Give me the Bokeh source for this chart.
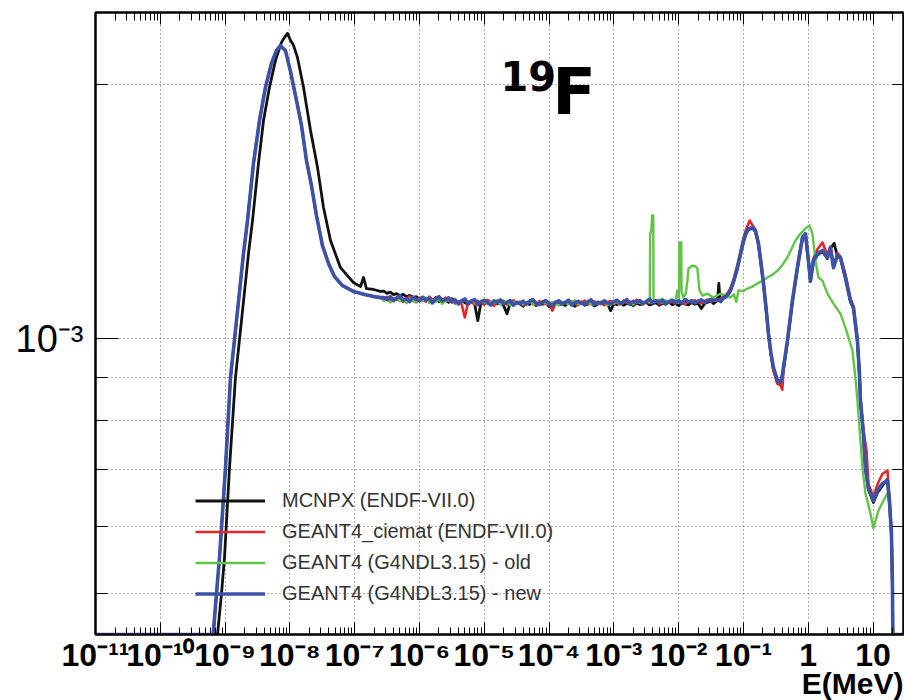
import numpy as np
from bokeh.plotting import figure
from bokeh.models import Range1d, FixedTicker, LogAxis, Label, Legend, LegendItem, Title
from bokeh.embed import file_html
from bokeh.resources import INLINE

# ---------------- data ----------------
# energies stored as log10(E / MeV); flux values stored in units of 1e-3
Y_UNIT = 1e-3

# thermal region (GEANT4 runs share this shape)
G4_THERMAL_LOGE = [-11.0, -9.184, -9.133, -9.086, -8.994, -8.917, -8.824, -8.716, -8.654, -8.562,
                   -8.469, -8.377, -8.284, -8.207, -8.145, -8.068, -7.991, -7.898, -7.821, -7.744,
                   -7.667, -7.590, -7.497, -7.404, -7.312, -7.188, -7.019, -6.833, -6.700, -6.600]
G4_THERMAL_Y = [0, 0, 0.499, 0.551, 0.703, 0.899, 1.050, 1.260, 1.379, 1.611,
                1.811, 1.982, 2.116, 2.192, 2.220, 2.190, 2.070, 1.913, 1.787, 1.624,
                1.517, 1.398, 1.288, 1.227, 1.184, 1.155, 1.137, 1.127, 1.121, 1.118]

MCNPX_THERMAL_LOGE = [-11.0, -9.117, -9.056, -9.009, -8.932, -8.840, -8.747, -8.639, -8.577, -8.485,
                      -8.407, -8.315, -8.222, -8.130, -8.083, -8.037, -7.991, -7.944, -7.883, -7.790,
                      -7.682, -7.574, -7.481, -7.373, -7.219, -7.019, -6.910, -6.864, -6.818, -6.710,
                      -6.602]
MCNPX_THERMAL_Y = [0, 0, 0.499, 0.551, 0.703, 0.899, 1.050, 1.260, 1.379, 1.611,
                   1.811, 1.982, 2.133, 2.240, 2.271, 2.296, 2.253, 2.222, 2.150, 1.982,
                   1.763, 1.594, 1.429, 1.306, 1.213, 1.165, 1.152, 1.181, 1.146, 1.143,
                   1.137]

# epithermal plateau: histogram bins of 0.05 decade from 10^-6.55 to 10^-1.50 MeV
PLATEAU_LOGE = np.round(np.arange(-6.55, -1.49, 0.05), 2)

MCNPX_PLATEAU_Y = [
    1.138, 1.131, 1.135, 1.127, 1.130, 1.124, 1.128, 1.120, 1.125, 1.117,
    1.121, 1.115, 1.119, 1.112, 1.116, 1.109, 1.118, 1.106, 1.113, 1.110,
    1.104, 1.115, 1.108, 1.101, 1.109, 1.103, 1.097, 1.106, 1.100, 1.050,
    1.104, 1.098, 1.107, 1.095, 1.102, 1.099, 1.105, 1.093, 1.070, 1.101,
    1.096, 1.104, 1.099, 1.092, 1.103, 1.097, 1.106, 1.094, 1.100, 1.098,
    1.104, 1.091, 1.099, 1.105, 1.096, 1.101, 1.094, 1.103, 1.098, 1.092,
    1.100, 1.105, 1.095, 1.099, 1.102, 1.093, 1.098, 1.104, 1.096, 1.101,
    1.079, 1.100, 1.097, 1.103, 1.095, 1.101, 1.098, 1.094, 1.102, 1.097,
    1.100, 1.104, 1.096, 1.099, 1.103, 1.095, 1.101, 1.098, 1.105, 1.097,
    1.100, 1.094, 1.102, 1.099, 1.096, 1.103, 1.098, 1.101, 1.085, 1.100,
    1.104, 1.107]

CIEMAT_PLATEAU_Y = [
    1.114, 1.120, 1.108, 1.116, 1.111, 1.119, 1.105, 1.113, 1.122, 1.109,
    1.104, 1.117, 1.110, 1.106, 1.121, 1.112, 1.107, 1.115, 1.103, 1.118,
    1.109, 1.113, 1.100, 1.107, 1.098, 1.059, 1.104, 1.110, 1.096, 1.108,
    1.102, 1.099, 1.111, 1.105, 1.093, 1.106, 1.101, 1.108, 1.097, 1.104,
    1.110, 1.099, 1.105, 1.095, 1.103, 1.109, 1.100, 1.096, 1.107, 1.102,
    1.098, 1.105, 1.079, 1.101, 1.108, 1.097, 1.104, 1.099, 1.106, 1.100,
    1.095, 1.103, 1.109, 1.098, 1.102, 1.107, 1.099, 1.105, 1.096, 1.104,
    1.108, 1.100, 1.103, 1.097, 1.109, 1.102, 1.106, 1.099, 1.111, 1.104,
    1.098, 1.107, 1.101, 1.105, 1.110, 1.099, 1.104, 1.108, 1.102, 1.106,
    1.100, 1.109, 1.104, 1.098, 1.107, 1.103, 1.110, 1.105, 1.101, 1.108,
    1.112, 1.106]

OLD_PLATEAU_Y = [  # bins up to 10^-2.50 MeV
    1.108, 1.114, 1.103, 1.111, 1.117, 1.106, 1.112, 1.101, 1.115, 1.109,
    1.104, 1.113, 1.107, 1.118, 1.102, 1.110, 1.105, 1.114, 1.099, 1.108,
    1.112, 1.103, 1.109, 1.098, 1.106, 1.111, 1.100, 1.107, 1.103, 1.096,
    1.109, 1.104, 1.099, 1.106, 1.101, 1.110, 1.097, 1.103, 1.108, 1.095,
    1.104, 1.100, 1.106, 1.098, 1.102, 1.109, 1.096, 1.103, 1.099, 1.107,
    1.101, 1.097, 1.105, 1.100, 1.094, 1.106, 1.102, 1.098, 1.104, 1.110,
    1.097, 1.103, 1.100, 1.107, 1.096, 1.104, 1.099, 1.102, 1.108, 1.095,
    1.103, 1.100, 1.106, 1.098, 1.104, 1.109, 1.101, 1.097, 1.105, 1.102,
    1.099, 1.106]

NEW_PLATEAU_Y = [
    1.118, 1.112, 1.121, 1.109, 1.117, 1.124, 1.110, 1.115, 1.106, 1.120,
    1.113, 1.108, 1.119, 1.111, 1.116, 1.102, 1.114, 1.121, 1.108, 1.112,
    1.117, 1.105, 1.111, 1.099, 1.108, 1.114, 1.101, 1.106, 1.112, 1.097,
    1.105, 1.110, 1.103, 1.096, 1.108, 1.104, 1.111, 1.099, 1.102, 1.109,
    1.095, 1.104, 1.100, 1.107, 1.098, 1.106, 1.112, 1.101, 1.097, 1.105,
    1.109, 1.100, 1.094, 1.104, 1.108, 1.099, 1.103, 1.110, 1.096, 1.102,
    1.107, 1.101, 1.098, 1.105, 1.111, 1.097, 1.104, 1.100, 1.108, 1.102,
    1.099, 1.106, 1.110, 1.101, 1.104, 1.112, 1.098, 1.107, 1.103, 1.109,
    1.100, 1.106, 1.113, 1.102, 1.108, 1.104, 1.111, 1.099, 1.106, 1.110,
    1.103, 1.108, 1.101, 1.112, 1.105, 1.109, 1.102, 1.107, 1.111, 1.104,
    1.108, 1.113]

# fast region: (log10 E, value) pairs
MCNPX_FAST = [(-1.463, 1.100), (-1.400, 1.110), (-1.380, 1.162), (-1.360, 1.108), (-1.309, 1.115),
              (-1.250, 1.122), (-1.201, 1.138), (-1.150, 1.168), (-1.093, 1.210), (-1.040, 1.262),
              (-1.000, 1.300), (-0.960, 1.330), (-0.923, 1.345), (-0.861, 1.350), (-0.815, 1.338),
              (-0.769, 1.292), (-0.730, 1.225), (-0.691, 1.160), (-0.650, 1.080), (-0.614, 1.010),
              (-0.575, 0.958), (-0.537, 0.920), (-0.475, 0.885), (-0.429, 0.890), (-0.400, 0.900),
              (-0.383, 0.920), (-0.321, 0.992), (-0.244, 1.105), (-0.167, 1.210), (-0.090, 1.312),
              (-0.043, 1.328), (0.003, 1.235), (0.034, 1.168), (0.080, 1.232), (0.142, 1.255),
              (0.219, 1.268), (0.296, 1.243), (0.343, 1.278), (0.400, 1.296), (0.451, 1.250),
              (0.497, 1.245), (0.574, 1.178), (0.651, 1.105), (0.698, 1.085), (0.759, 0.990),
              (0.790, 0.905), (0.806, 0.842), (0.852, 0.768), (0.883, 0.700), (0.929, 0.663),
              (1.006, 0.640), (1.068, 0.657), (1.145, 0.670), (1.222, 0.682), (1.253, 0.640),
              (1.284, 0.585), (1.299, 0.510), (1.305, 0), (1.470, 0)]

CIEMAT_FAST = [(-1.463, 1.112), (-1.400, 1.108), (-1.350, 1.115), (-1.309, 1.121), (-1.250, 1.130),
               (-1.201, 1.146), (-1.150, 1.176), (-1.093, 1.222), (-1.040, 1.272), (-1.000, 1.315),
               (-0.960, 1.345), (-0.905, 1.379), (-0.861, 1.362), (-0.815, 1.345), (-0.769, 1.300),
               (-0.730, 1.236), (-0.691, 1.168), (-0.650, 1.090), (-0.614, 1.018), (-0.575, 0.955),
               (-0.537, 0.915), (-0.475, 0.885), (-0.429, 0.880), (-0.400, 0.870), (-0.383, 0.915),
               (-0.321, 0.990), (-0.244, 1.112), (-0.167, 1.222), (-0.090, 1.320), (-0.043, 1.325),
               (0.003, 1.232), (0.034, 1.176), (0.080, 1.245), (0.142, 1.275), (0.219, 1.299),
               (0.296, 1.255), (0.343, 1.285), (0.389, 1.220), (0.451, 1.262), (0.497, 1.250),
               (0.574, 1.190), (0.651, 1.115), (0.698, 1.092), (0.759, 1.000), (0.790, 0.915),
               (0.806, 0.850), (0.852, 0.778), (0.900, 0.737), (0.929, 0.672), (1.006, 0.650),
               (1.068, 0.672), (1.145, 0.692), (1.222, 0.698), (1.253, 0.650), (1.284, 0.592),
               (1.299, 0.515), (1.305, 0), (1.470, 0)]

OLD_FAST = [(-2.445, 1.104), (-2.440, 1.330), (-2.420, 1.345), (-2.410, 1.398), (-2.392, 1.398),
            (-2.388, 1.110), (-2.350, 1.106), (-2.300, 1.112), (-2.250, 1.103), (-2.200, 1.110),
            (-2.150, 1.105), (-2.100, 1.112), (-2.050, 1.107), (-2.020, 1.140), (-1.995, 1.112),
            (-1.990, 1.299), (-1.960, 1.299), (-1.955, 1.140), (-1.930, 1.118), (-1.890, 1.130),
            (-1.864, 1.171), (-1.849, 1.210), (-1.787, 1.220), (-1.741, 1.217), (-1.710, 1.210),
            (-1.694, 1.171), (-1.679, 1.140), (-1.633, 1.124), (-1.556, 1.130), (-1.463, 1.118),
            (-1.400, 1.125), (-1.355, 1.130), (-1.280, 1.125), (-1.201, 1.118), (-1.150, 1.128),
            (-1.110, 1.105), (-1.077, 1.140), (-1.000, 1.138), (-0.938, 1.146), (-0.860, 1.152),
            (-0.784, 1.162), (-0.710, 1.170), (-0.630, 1.181), (-0.550, 1.190), (-0.475, 1.203),
            (-0.400, 1.222), (-0.321, 1.247), (-0.260, 1.275), (-0.198, 1.306), (-0.120, 1.331),
            (-0.043, 1.349), (0.019, 1.361), (0.065, 1.331), (0.111, 1.237), (0.157, 1.181),
            (0.219, 1.171), (0.296, 1.130), (0.389, 1.100), (0.497, 1.070), (0.574, 1.030),
            (0.620, 1.003), (0.682, 0.968), (0.728, 0.899), (0.759, 0.845), (0.836, 0.704),
            (0.883, 0.656), (0.960, 0.621), (1.006, 0.597), (1.083, 0.626), (1.160, 0.643),
            (1.222, 0.656), (1.253, 0.635), (1.284, 0.588), (1.299, 0.513), (1.305, 0), (1.470, 0)]

NEW_FAST = [(-1.463, 1.109), (-1.400, 1.112), (-1.350, 1.106), (-1.309, 1.118), (-1.250, 1.125),
            (-1.201, 1.140), (-1.150, 1.170), (-1.093, 1.213), (-1.040, 1.265), (-1.000, 1.306),
            (-0.960, 1.335), (-0.923, 1.349), (-0.861, 1.353), (-0.815, 1.342), (-0.769, 1.296),
            (-0.730, 1.230), (-0.691, 1.162), (-0.650, 1.085), (-0.614, 1.014), (-0.575, 0.960),
            (-0.537, 0.924), (-0.475, 0.892), (-0.429, 0.887), (-0.400, 0.905), (-0.383, 0.924),
            (-0.321, 0.995), (-0.244, 1.109), (-0.167, 1.213), (-0.090, 1.317), (-0.043, 1.331),
            (0.003, 1.237), (0.034, 1.171), (0.080, 1.237), (0.142, 1.260), (0.219, 1.271),
            (0.296, 1.247), (0.343, 1.281), (0.389, 1.213), (0.451, 1.254), (0.497, 1.247),
            (0.574, 1.181), (0.651, 1.109), (0.698, 1.088), (0.759, 0.995), (0.790, 0.909),
            (0.806, 0.845), (0.852, 0.772), (0.883, 0.704), (0.929, 0.666), (1.006, 0.643),
            (1.068, 0.661), (1.145, 0.674), (1.222, 0.679), (1.253, 0.643), (1.284, 0.588),
            (1.299, 0.513), (1.305, 0), (1.470, 0)]

SERIES_LABELS = ["MCNPX (ENDF-VII.0)", "GEANT4_ciemat (ENDF-VII.0)",
                 "GEANT4 (G4NDL3.15) - old", "GEANT4 (G4NDL3.15) - new"]
SERIES_COLORS = ["#111111", "#e3262b", "#62c447", "#3b52a6"]
SERIES_WIDTHS = [2.8, 2.6, 2.4, 3.6]

X_MAJOR = [10.0 ** k for k in range(-11, 2)]
X_LABELS = ["10\u207b\u00b9\u00b9", "10\u207b\u00b9\u2070", "10\u207b\u2079", "10\u207b\u2078",
            "10\u207b\u2077", "10\u207b\u2076", "10\u207b\u2075", "10\u207b\u2074",
            "10\u207b\u00b3", "10\u207b\u00b2", "10\u207b\u00b9", "1", "10"]
X_MINOR = [m * 10.0 ** k for k in range(-11, 2) for m in range(2, 10)]
Y_MAJOR = [1e-3]
Y_LABELS = ["10\u207b\u00b3"]
Y_MINOR = [5e-4, 6e-4, 7e-4, 8e-4, 9e-4, 2e-3]
X_TITLE = "E(MeV)"

X_START, X_END = 1e-11, 10 ** 1.47
Y_START, Y_END = 4.467e-4, 2.43e-3

SANS = "Liberation Sans"


def build(thermal_loge, thermal_y, plateau_y, fast):
    n = len(plateau_y)
    loge = list(thermal_loge) + list(PLATEAU_LOGE[:n]) + [a for a, _ in fast]
    y = list(thermal_y) + list(plateau_y) + [b for _, b in fast]
    e = 10.0 ** np.array(loge)
    yv = np.array(y) * Y_UNIT
    yv = np.where(yv > 0, yv, Y_START)  # empty bins drawn on the axis floor
    return e, yv


series = [
    build(MCNPX_THERMAL_LOGE, MCNPX_THERMAL_Y, MCNPX_PLATEAU_Y, MCNPX_FAST),
    build(G4_THERMAL_LOGE, G4_THERMAL_Y, CIEMAT_PLATEAU_Y, CIEMAT_FAST),
    build(G4_THERMAL_LOGE, G4_THERMAL_Y, OLD_PLATEAU_Y, OLD_FAST),
    build(G4_THERMAL_LOGE, G4_THERMAL_Y, NEW_PLATEAU_Y, NEW_FAST),
]

# ---------------- figure ----------------
p = figure(width=904, height=700, x_axis_type="log", y_axis_type="log",
           x_range=Range1d(X_START, X_END), y_range=Range1d(Y_START, Y_END),
           output_backend="svg", toolbar_location=None,
           min_border_left=95, min_border_right=1, min_border_top=12, min_border_bottom=66)
p.background_fill_color = "white"
p.border_fill_color = "white"
p.outline_line_color = "black"
p.outline_line_width = 2

GRID_COLOR = "#555555"
for g in (p.xgrid, p.ygrid):
    g.grid_line_color = GRID_COLOR
    g.grid_line_dash = "1 3"
    g.grid_line_width = 1
p.ygrid.minor_grid_line_color = GRID_COLOR
p.ygrid.minor_grid_line_dash = "1 3"
p.ygrid.minor_grid_line_width = 1

xticker = FixedTicker(ticks=X_MAJOR, minor_ticks=X_MINOR)
yticker = FixedTicker(ticks=Y_MAJOR, minor_ticks=Y_MINOR)

xa = p.xaxis[0]
xa.ticker = xticker
xa.major_label_overrides = dict(zip(X_MAJOR, X_LABELS))
xa.major_tick_in = 12
xa.major_tick_out = 0
xa.minor_tick_in = 7
xa.minor_tick_out = 0
xa.major_label_standoff = 2
xa.major_label_text_font = SANS
xa.major_label_text_font_style = "bold"
xa.major_label_text_font_size = "32px"
xa.major_label_text_color = "black"

ya = p.yaxis[0]
ya.ticker = yticker
ya.major_label_overrides = dict(zip(Y_MAJOR, Y_LABELS))
ya.major_tick_in = 23
ya.major_tick_out = 0
ya.minor_tick_in = 12
ya.minor_tick_out = 0
ya.major_label_standoff = 12
ya.major_label_text_font = SANS
ya.major_label_text_font_size = "38px"
ya.major_label_text_color = "black"

top = LogAxis(ticker=xticker, major_tick_in=12, major_tick_out=0, minor_tick_in=8, minor_tick_out=0,
              major_label_text_font_size="1px", major_label_text_alpha=0, major_label_standoff=0)
right = LogAxis(ticker=yticker, major_tick_in=23, major_tick_out=0, minor_tick_in=11, minor_tick_out=0,
                major_label_text_font_size="1px", major_label_text_alpha=0, major_label_standoff=0)
p.add_layout(top, "above")
p.add_layout(right, "right")

for ax in (xa, ya, top, right):
    ax.axis_line_color = "black"
    ax.axis_line_width = 2
    ax.major_tick_line_color = "black"
    ax.minor_tick_line_color = "black"
    ax.major_tick_line_width = 1
    ax.minor_tick_line_width = 1

xtitle = Title(text=X_TITLE, align="right", vertical_align="top", standoff=-18, offset=0,
               text_font=SANS, text_font_style="bold", text_font_size="30px",
               text_color="black")
p.add_layout(xtitle, "below")

renderers = []
for (e, yv), col, lw in zip(series, SERIES_COLORS, SERIES_WIDTHS):
    r = p.line(e, yv, line_color=col, line_width=lw, line_join="round")
    renderers.append(r)

legend = Legend(items=[LegendItem(label=lab, renderers=[r]) for lab, r in zip(SERIES_LABELS, renderers)],
                location=(100, 25), glyph_width=70, glyph_height=31, label_height=20,
                label_standoff=17, spacing=0, padding=0, margin=0,
                border_line_color=None, background_fill_alpha=0,
                label_text_font=SANS, label_text_font_size="20px",
                label_text_color="#333333")
p.add_layout(legend)

p.add_layout(Label(x=10 ** -4.75, y=2.042e-3, text="19", text_font="DejaVu Sans",
                   text_font_style="bold", text_font_size="40px", text_baseline="alphabetic",
                   text_align="left", text_color="black"))
p.add_layout(Label(x=10 ** -3.95, y=1.955e-3, text="F", text_font="DejaVu Sans",
                   text_font_style="bold", text_font_size="64px", text_baseline="alphabetic",
                   text_align="left", text_color="black"))

open("out.html", "w").write(file_html(p, INLINE))
